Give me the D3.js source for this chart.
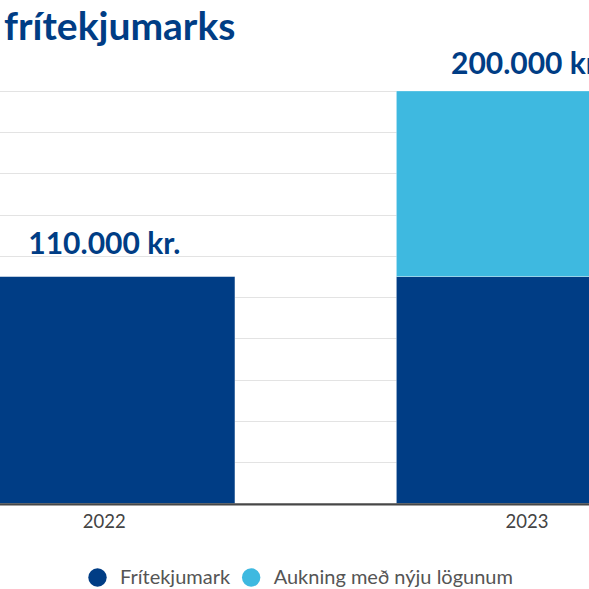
<!DOCTYPE html>
<html>
<head>
<meta charset="utf-8">
<script src="https://cdn.jsdelivr.net/npm/d3@7"></script>
<style>
	html, body { margin: 0; padding: 0; background: #fff; overflow: hidden; }
	svg { display: block; font-family: Lato, "Open Sans", sans-serif; }
</style>
</head>
<body>
<svg id="chart" width="589" height="589"></svg>
<script>
// chart data
const years = ["2022", "2023"];
const seriesNames = ["Frítekjumark", "Aukning með nýju lögunum"];
const baseValues = [110000, 110000];
const increaseValues = [0, 90000];
const yTicks = [0, 20000, 40000, 60000, 80000, 100000, 120000, 140000, 160000, 180000, 200000];
const titleText = "frítekjumarks";

const colors = ["#003d85", "#3eb9e0"];
const textBlue = "#003d85";

const svg = d3.select("#chart");

const rows = years.map((year, i) => ({ year: year, base: baseValues[i], increase: increaseValues[i] }));
const stacked = d3.stack().keys(["base", "increase"])(rows);

// the plot runs past the picture edges on both sides
const x = d3.scaleBand()
	.domain(years)
	.range([-26.3, 657.6])
	.paddingInner(0.382)
	.paddingOuter(0);

const y = d3.scaleLinear()
	.domain([0, 200000])
	.range([503.5, 91]);

const isk = d3.formatLocale({ decimal: ",", thousands: ".", grouping: [3], currency: ["", " kr."] });
const fmt = isk.format("$,.0f");

// gridlines
svg.append("g")
	.classed("grid", true)
	.selectAll("line")
	.data(yTicks.slice(1)).enter()
	.append("line")
	.attr("x1", 0)
	.attr("x2", 589)
	.attr("y1", d => Math.round(y(d)) + 0.5)
	.attr("y2", d => Math.round(y(d)) + 0.5)
	.attr("stroke", "#e3e3e3")
	.attr("stroke-width", 1);

// bars
svg.append("g")
	.classed("bars", true)
	.selectAll("g")
	.data(stacked).enter()
	.append("g")
	.attr("fill", (d, i) => colors[i])
	.selectAll("rect")
	.data(d => d.filter(p => p[1] > p[0])).enter()
	.append("rect")
	.attr("x", d => x(d.data.year))
	.attr("width", x.bandwidth())
	.attr("y", d => y(d[1]))
	.attr("height", d => y(d[0]) - y(d[1]))
	.attr("stroke", "#ffffff")
	.attr("stroke-opacity", 0.5)
	.attr("stroke-width", 0.6);

// baseline + category axis
const axis = svg.append("g")
	.classed("x-axis", true)
	.attr("transform", `translate(0,${y(0)})`)
	.call(d3.axisBottom(x).tickSize(0).tickPadding(11));
axis.select(".domain")
	.attr("d", "M0,0.8H589")
	.attr("stroke", "#474747")
	.attr("stroke-width", 2.2);
axis.selectAll(".tick text")
	.attr("font-family", "Lato, sans-serif")
	.attr("font-size", 18.5)
	.attr("fill", "#444");

// totals above the bars
svg.append("g")
	.classed("totals", true)
	.selectAll("text")
	.data(rows).enter()
	.append("text")
	.attr("x", d => x(d.year) + x.bandwidth() / 2)
	.attr("y", d => Math.max(y(d.base + d.increase) - 22.5, 74))
	.attr("text-anchor", "middle")
	.attr("font-size", 30)
	.attr("font-weight", 700)
	.attr("fill", textBlue)
	.text(d => fmt(d.base + d.increase));

// title (cut at the left like the source)
svg.append("text")
	.attr("x", 4)
	.attr("y", 40)
	.attr("font-size", 39)
	.attr("font-weight", 700)
	.attr("fill", textBlue)
	.text(titleText);

// legend
const legend = svg.append("g")
	.classed("legend", true)
	.attr("transform", "translate(97.5,577.5)");

let cursor = 0;
seriesNames.forEach((name, i) => {
	const item = legend.append("g").attr("transform", `translate(${cursor},0)`);
	item.append("circle")
		.attr("r", 9.2)
		.attr("fill", colors[i]);
	const label = item.append("text")
		.attr("x", 22.5)
		.attr("y", 6.8)
		.attr("font-size", 20)
		.attr("fill", "#555")
		.text(name);
	cursor += 22.5 + label.node().getComputedTextLength() + 21;
});
</script>
</body>
</html>
